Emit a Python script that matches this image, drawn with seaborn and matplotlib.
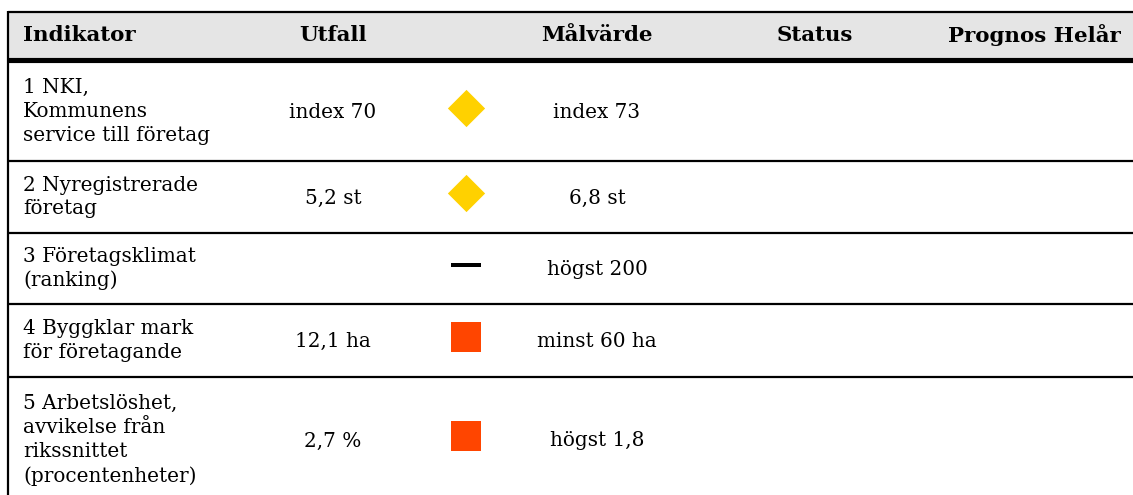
import matplotlib
matplotlib.use("Agg")
import matplotlib.pyplot as plt
import seaborn as sns
import pandas as pd

# ---- data ----
headers = ["Indikator", "Utfall", "Målvärde", "Status", "Prognos Helår"]
indikatorer = [
    "1 NKI,\nKommunens\nservice till företag",
    "2 Nyregistrerade\nföretag",
    "3 Företagsklimat\n(ranking)",
    "4 Byggklar mark\nför företagande",
    "5 Arbetslöshet,\navvikelse från\nrikssnittet\n(procentenheter)",
]
utfall = ["index 70", "5,2 st", "", "12,1 ha", "2,7 %"]
malvarde = ["index 73", "6,8 st", "högst 200", "minst 60 ha", "högst 1,8"]
status = ["gul", "gul", "saknas", "röd", "röd"]
prognos = ["", "", "", "", ""]

# ---- layout (pixel coordinates) ----
W, H = 1133, 495
row_edges = [62, 161, 233, 304, 377, 506]
col_x = {"ind": 23, "utfall": 333, "marker": 466, "mal": 597, "status": 815, "prognos_right": 1121}
header_top, header_bottom = 12, 58

sns.set_theme(style="white")
plt.rcParams["font.family"] = ["DejaVu Serif"]
plt.rcParams["text.color"] = "black"

fig = plt.figure(figsize=(W / 100, H / 100), dpi=100)
ax = fig.add_axes([0, 0, 1, 1])
ax.set_xlim(0, W)
ax.set_ylim(H, 0)
ax.axis("off")

fs = 14.4
hfs = 15.4
# header
ax.fill_between([8, W], header_top, header_bottom, color="#e5e5e5", lw=0, zorder=0)
ax.plot([8, W], [header_top, header_top], color="black", lw=1.6, solid_capstyle="butt")
ax.plot([8, W], [59.5, 59.5], color="black", lw=3.7, solid_capstyle="butt")
ax.plot([8, 8], [header_top - 1, H], color="black", lw=1.6, solid_capstyle="butt")
hy = 35
hkw = dict(fontsize=hfs, fontweight="bold", va="center", color="black")
ax.text(col_x["ind"], hy, headers[0], ha="left", **hkw)
ax.text(col_x["utfall"], hy, headers[1], ha="center", **hkw)
ax.text(col_x["mal"], hy, headers[2], ha="center", **hkw)
ax.text(col_x["status"], hy, headers[3], ha="center", **hkw)
ax.text(col_x["prognos_right"], hy, headers[4], ha="right", **hkw)

# rows
centers = []
for i in range(len(indikatorer)):
    top, bot = row_edges[i], row_edges[i + 1]
    if i > 0:
        ax.plot([8, W], [top, top], color="black", lw=1.6, solid_capstyle="butt")
    c = (top + bot) / 2 if i < 4 else 440
    centers.append(c)
    ax.text(col_x["ind"], c, indikatorer[i], fontsize=fs, ha="left", va="center",
            linespacing=1.32, color="black")
    ax.text(col_x["utfall"], c + 1, utfall[i], fontsize=fs, ha="center", va="center", color="black")
    ax.text(col_x["mal"], c + 1, malvarde[i], fontsize=fs, ha="center", va="center", color="black")

df = pd.DataFrame({"x": [col_x["marker"]] * len(status), "y": [c - 4 for c in centers], "status": status})
dash = [(-1, -0.14), (1, -0.14), (1, 0.14), (-1, 0.14), (-1, -0.14)]
styles = {"gul": ("#FFD100", "D", 360), "röd": ("#FF4500", "s", 436), "saknas": ("black", dash, 436)}
for st, (colr, mk, s) in styles.items():
    sub = df[df["status"] == st]
    sns.scatterplot(data=sub, x="x", y="y", color=colr, marker=mk, s=s, linewidth=0,
                    ax=ax, legend=False, zorder=3)

ax.set_xlim(0, W)
ax.set_ylim(H, 0)
fig.savefig("out.png", dpi=100, facecolor="white")
